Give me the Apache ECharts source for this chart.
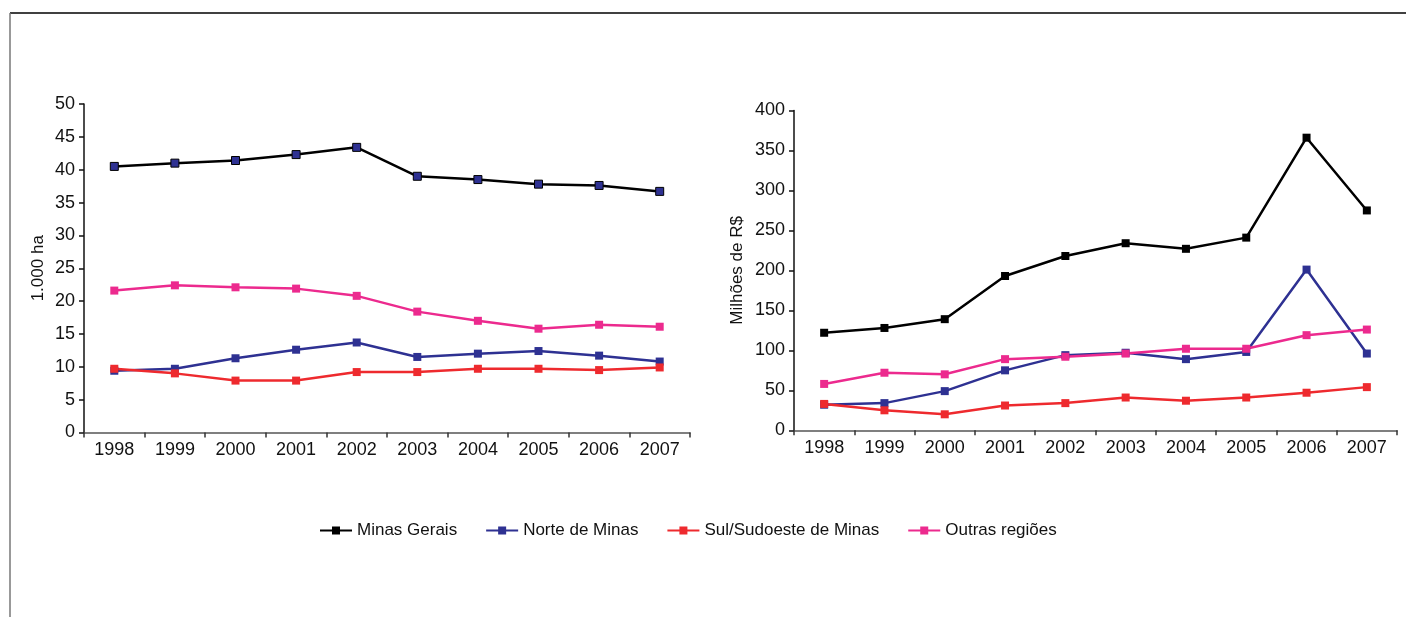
<!DOCTYPE html>
<html>
<head>
<meta charset="utf-8">
<script src="https://cdn.jsdelivr.net/npm/echarts@6/dist/echarts.min.js"></script>
<style>
  html, body { margin: 0; padding: 0; background: #fff; }
  #chart { width: 1406px; height: 617px; }
</style>
</head>
<body>
<div id="chart"></div>
<script>
// Years shared by both panels
const years = ['1998', '1999', '2000', '2001', '2002', '2003', '2004', '2005', '2006', '2007'];

// Left panel: area (1.000 ha)
const areaMinasGerais = [40.5, 41.0, 41.4, 42.3, 43.4, 39.0, 38.5, 37.8, 37.6, 36.7];
const areaNorte       = [9.4, 9.7, 11.3, 12.6, 13.7, 11.5, 12.0, 12.4, 11.7, 10.8];
const areaSul         = [9.7, 9.0, 7.9, 7.9, 9.2, 9.2, 9.7, 9.7, 9.5, 9.9];
const areaOutras      = [21.6, 22.4, 22.1, 21.9, 20.8, 18.4, 17.0, 15.8, 16.4, 16.1];

// Right panel: value (Milhões de R$)
const valorMinasGerais = [122, 128, 139, 193, 218, 234, 227, 241, 366, 275];
const valorNorte       = [32, 34, 49, 75, 94, 97, 89, 98, 201, 96];
const valorSul         = [33, 25, 20, 31, 34, 41, 37, 41, 47, 54];
const valorOutras      = [58, 72, 70, 89, 92, 96, 102, 102, 119, 126];

const seriesNames = ['Minas Gerais', 'Norte de Minas', 'Sul/Sudoeste de Minas', 'Outras regiões'];
const colors = ['#000000', '#2E3192', '#EE2A2E', '#EC2A8E'];

const FONT = 'Liberation Sans, Arial, sans-serif';

// Legend glyph: thin line with a square marker in the middle
const LEGEND_ICON = 'path://M0,3L12,3L12,0L20,0L20,3L32,3L32,5L20,5L20,8L12,8L12,5L0,5Z';

function lineSeries(name, color, data, idx, markerColor, markerBorder) {
  return {
    type: 'line',
    name: name,
    data: data,
    xAxisIndex: idx,
    yAxisIndex: idx,
    symbol: 'rect',
    symbolSize: 8,
    showSymbol: true,
    animation: false,
    lineStyle: { color: color, width: 2.5 },
    itemStyle: {
      color: markerColor || color,
      borderColor: markerBorder || (markerColor || color),
      borderWidth: markerBorder ? 1 : 0
    }
  };
}

function catAxis(idx) {
  return {
    type: 'category',
    gridIndex: idx,
    data: years,
    boundaryGap: true,
    axisLine: { show: true, lineStyle: { color: '#555', width: 1.5 } },
    axisTick: { show: true, alignWithLabel: false, length: 5, lineStyle: { color: '#333', width: 1.5 } },
    axisLabel: { color: '#111', fontSize: 18, fontFamily: FONT, margin: 9 },
    splitLine: { show: false }
  };
}

function valAxis(idx, max, interval, name, gap) {
  return {
    type: 'value',
    gridIndex: idx,
    min: 0,
    max: max,
    interval: interval,
    name: name,
    nameLocation: 'middle',
    nameRotate: 90,
    nameGap: gap,
    nameTextStyle: { color: '#111', fontSize: 17, fontFamily: FONT },
    axisLine: { show: true, lineStyle: { color: '#111', width: 1.5 } },
    axisTick: { show: true, inside: false, length: 5, lineStyle: { color: '#111', width: 1.5 } },
    axisLabel: { color: '#111', fontSize: 18, fontFamily: FONT, margin: 9 },
    splitLine: { show: false }
  };
}

const chart = echarts.init(document.getElementById('chart'), null, { renderer: 'canvas' });

chart.setOption({
  backgroundColor: '#ffffff',
  animation: false,
  grid: [
    { left: 84, right: 716, top: 104, bottom: 184.5 },
    { left: 794, right: 9, top: 110.5, bottom: 186.7 }
  ],
  xAxis: [catAxis(0), catAxis(1)],
  yAxis: [
    valAxis(0, 50, 5, '1.000 ha', 37),
    valAxis(1, 400, 50, 'Milhões de R$', 48)
  ],
  legend: {
    left: 315,
    top: 517,
    itemWidth: 32,
    itemHeight: 8,
    itemGap: 29,
    itemStyle: { borderWidth: 0 },
    textStyle: { color: '#111', fontSize: 17, fontFamily: FONT },
    data: seriesNames.map((n, i) => ({
      name: n,
      icon: LEGEND_ICON,
      itemStyle: { color: colors[i], borderWidth: 0 }
    }))
  },
  graphic: [
    { type: 'line', shape: { x1: 10, y1: 13, x2: 1406, y2: 13 }, style: { stroke: '#000', lineWidth: 1.5 } },
    { type: 'line', shape: { x1: 10, y1: 13, x2: 10, y2: 617 }, style: { stroke: '#777', lineWidth: 1.5 } }
  ],
  series: [
    lineSeries(seriesNames[0], colors[0], valorMinasGerais, 1),
    lineSeries(seriesNames[1], colors[1], valorNorte, 1),
    lineSeries(seriesNames[2], colors[2], valorSul, 1),
    lineSeries(seriesNames[3], colors[3], valorOutras, 1),
    lineSeries(seriesNames[0], colors[0], areaMinasGerais, 0, '#2E3192', '#000'),
    lineSeries(seriesNames[1], colors[1], areaNorte, 0),
    lineSeries(seriesNames[2], colors[2], areaSul, 0),
    lineSeries(seriesNames[3], colors[3], areaOutras, 0)
  ]
});
</script>
</body>
</html>
